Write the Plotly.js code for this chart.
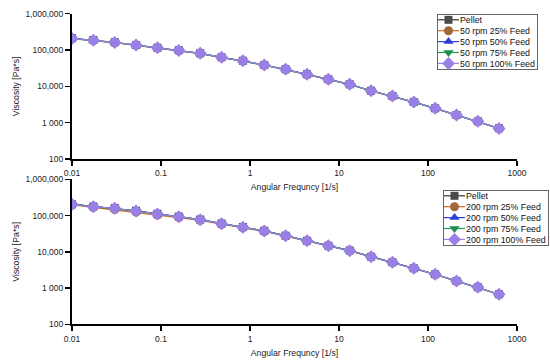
<!DOCTYPE html>
<html><head><meta charset="utf-8">
<script src="https://cdn.plot.ly/plotly-3.0.1.min.js"></script>
<style>html,body{margin:0;padding:0;background:#fff}#chart{width:550px;height:362px}</style>
</head><body><div id="chart"></div>
<script>
const freq = [0.01,0.01738,0.0302,0.0525,0.0912,0.1585,0.2755,0.4788,0.832,1.446,2.513,4.368,7.59,13.19,22.93,39.85,69.26,120.4,209.2,363.6,628.3];

const topPellet = [210000,188000,163000,137000,116000,98000,81000,63000,50700,38600,29400,21400,15600,11400,7570,5410,3700,2480,1620,1090,697];
const top25 = [205000,183000,159000,134000,113000,95500,79000,62000,49800,38000,29000,21100,15400,11250,7480,5350,3660,2450,1600,1080,690];
const top50 = [208000,186000,161000,136000,115000,97000,80500,62800,50300,38400,29300,21300,15550,11350,7540,5390,3690,2470,1615,1088,695];
const top75 = [206000,185000,160000,135000,114000,96500,80000,62400,50000,38200,29100,21200,15500,11300,7520,5380,3680,2465,1610,1085,693];
const top100 = [209000,187000,162000,137000,115500,97500,80800,62900,50500,38500,29350,21350,15580,11380,7560,5400,3695,2475,1618,1089,696];

const botPellet = [206000,178000,161000,135000,112000,94500,78000,60500,48000,37800,27800,20300,14800,10800,7350,5150,3510,2400,1570,1055,675];
const bot25 = [196000,168000,146000,124000,103000,87500,73000,57500,45800,36300,27000,19900,14550,10650,7260,5090,3480,2375,1555,1045,668];
const bot50 = [205000,177000,160000,134000,111000,94000,77500,60200,47700,37600,27700,20250,14750,10760,7330,5140,3505,2395,1565,1052,673];
const bot75 = [203000,176000,158000,133000,110500,93500,77000,60000,47500,37500,27650,20200,14720,10740,7320,5130,3500,2392,1562,1050,672];
const bot100 = [204000,175000,159000,133000,110000,93000,76800,59600,47400,37500,27600,20200,14700,10700,7320,5130,3500,2390,1560,1050,672];

const topNames = ["Pellet","50 rpm 25% Feed","50 rpm 50% Feed","50 rpm 75% Feed","50 rpm 100% Feed"];
const botNames = ["Pellet","200 rpm 25% Feed","200 rpm 50% Feed","200 rpm 75% Feed","200 rpm 100% Feed"];

const yTickVals = [100,1000,10000,100000,1000000];
const yTickText = ["100","1 000","10,000","100,000","1,000,000"];
const xTickVals = [0.01,0.1,1,10,100,1000];
const xTickText = ["0.01","0.1","1","10","100","1000"];

const lineColors = ["#333333","#d2691e","#2a3fd6","#1f9e5a","#9a86e0"];
const markerColors = ["#4a4a4a","#a0683a","#2b3fd8","#1f8f4a","#9a7fe6"];
const symbols = ["square","circle","triangle-up","triangle-down","diamond"];
const sizes = [8,9,9,9,10];

const traces = [];
function addSet(series, names, xa, ya, leg){
  series.forEach((s,i)=>{
    traces.push({
      x: freq, y: s, name: names[i], type:'scatter', mode:'lines+markers',
      xaxis: xa, yaxis: ya, legend: leg,
      line:{color:lineColors[i], width:1.2},
      marker:{symbol:symbols[i], size:sizes[i], color:markerColors[i]}
    });
  });
}
addSet([topPellet,top25,top50,top75,top100], topNames, 'x','y','legend');
addSet([botPellet,bot25,bot50,bot75,bot100], botNames, 'x2','y2','legend2');

const FAM = '"Liberation Sans", Arial, sans-serif';
const tickFnt = {family:FAM, size:8.5, color:'#222'};
const titleFnt = {family:FAM, size:8.7, color:'#222'};
function xax(anchor){
  return {type:'log', range:[-2,3], domain:[0.1309,0.94], anchor:anchor,
    tickvals:xTickVals, ticktext:xTickText, ticks:'outside', ticklen:5, tickwidth:1.5, tickcolor:'#000',
    showline:true, linecolor:'#000', linewidth:2, showgrid:false, zeroline:false, automargin:false,
    tickfont:tickFnt, title:{text:'Angular Frequncy [1/s]', font:titleFnt, standoff:7}};
}
function yax(anchor, dom){
  return {type:'log', range:[2,6], domain:dom, anchor:anchor,
    tickvals:yTickVals, ticktext:yTickText, ticks:'outside', ticklen:5, tickwidth:1.5, tickcolor:'#000',
    showline:true, linecolor:'#000', linewidth:2, showgrid:false, zeroline:false, automargin:false,
    tickfont:tickFnt, title:{text:'Viscosity [Pa*s]', font:titleFnt, standoff:4}};
}
const legFont = {family:FAM, size:8.8, color:'#111'};
// legends are laid out where they fit, then moved to the reference box positions
const legendBoxes = {legend:[437,14], legend2:[443,190]};
const layout = {
  width:550, height:362, margin:{l:0,r:0,t:0,b:0,autoexpand:false},
  paper_bgcolor:'#fff', plot_bgcolor:'#fff', font:tickFnt,
  xaxis: xax('y'), yaxis: yax('x',[0.5608,0.9622]),
  xaxis2: xax('y2'), yaxis2: yax('x2',[0.1041,0.5047]),
  legend:{x:0.5, y:0.98, xanchor:'left', yanchor:'top', bgcolor:'#fff', bordercolor:'#666', borderwidth:1, font:legFont, tracegroupgap:0, itemwidth:30},
  legend2:{x:0.5, y:0.48, xanchor:'left', yanchor:'top', bgcolor:'#fff', bordercolor:'#666', borderwidth:1, font:legFont, tracegroupgap:0, itemwidth:30},
  showlegend:true
};

function compactLegends(){
  const groups = document.querySelectorAll('g.infolayer > g');
  groups.forEach(g=>{
    const cls = g.getAttribute('class') || '';
    if(!/^legend\d*$/.test(cls)) return;
    const pos = legendBoxes[cls];
    if(pos) g.setAttribute('transform', `translate(${pos[0]},${pos[1]})`);
    const sb = g.querySelector('g.scrollbox');
    if(sb){ sb.removeAttribute('clip-path'); sb.setAttribute('transform','translate(0,0)'); }
    g.querySelectorAll('rect.scrollbar').forEach(r=>r.remove());
    const items = g.querySelectorAll('g.traces');
    const step = 10.9, off = 5.8;
    let maxW = 0;
    items.forEach((it,i)=>{
      it.setAttribute('transform', `translate(1,${off + i*step})`);
      it.querySelectorAll('g.legendlines path').forEach(p=>p.setAttribute('d','M0,0h21'));
      it.querySelectorAll('path.scatterpts').forEach(p=>p.setAttribute('transform','translate(10.5,0)'));
      const t = it.querySelector('text');
      if(t){
        t.setAttribute('x', 22);
        t.querySelectorAll('tspan[x]').forEach(s=>s.setAttribute('x',22));
        try{ maxW = Math.max(maxW, t.getComputedTextLength()); }catch(e){}
      }
      it.querySelectorAll('rect').forEach(r=>{
        const c = r.getAttribute('class') || '';
        if(/toggle$/.test(c)) r.setAttribute('height', step);
      });
    });
    const bg = g.querySelector('rect.bg');
    if(bg){
      bg.setAttribute('height', off + (items.length-1)*step + off);
      bg.setAttribute('width', 1 + 22 + maxW + 2);
    }
  });
}
Plotly.newPlot('chart', traces, layout, {displayModeBar:false, staticPlot:true}).then(compactLegends);
</script></body></html>
